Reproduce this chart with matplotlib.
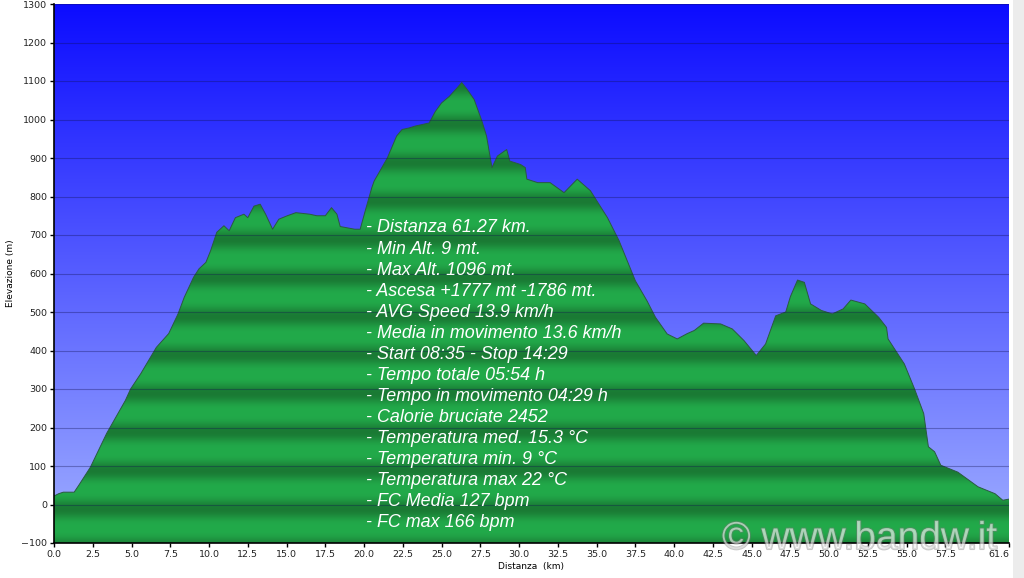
import matplotlib
matplotlib.use('Agg')
import matplotlib.pyplot as plt
import matplotlib.patheffects as pe
from matplotlib.patches import Polygon, Rectangle
import numpy as np

# elevation profile
km = [0, 0.3, 0.6, 1.3, 1.6, 2.35, 3.4, 4.6, 4.94, 5.6, 6.6, 7.4, 8.0, 8.4, 9.0, 9.35, 9.8,
      10.1, 10.5, 10.96, 11.3, 11.7, 12.25, 12.5, 12.9, 13.3, 13.65, 14.1, 14.5, 15.05, 15.6,
      16.5, 16.95, 17.5, 17.9, 18.25, 18.46, 19.4, 19.75, 20.07, 20.5, 20.65, 21.5, 22.1,
      22.45, 22.9, 23.3, 24.2, 24.6, 25.0, 25.5, 26.0, 26.3, 26.65, 27.1, 27.6, 27.9, 28.25,
      28.6, 29.2, 29.4, 30.1, 30.4, 30.5, 31.2, 32.0, 32.9, 33.75, 34.6, 35.7, 36.45, 37.5,
      38.25, 38.8, 39.55, 40.2, 40.85, 41.3, 41.9, 43.0, 43.75, 44.5, 45.3, 45.9, 46.55,
      47.2, 47.5, 47.96, 48.4, 48.8, 49.5, 50.2, 50.9, 51.4, 52.3, 53.2, 53.7, 53.8, 54.85,
      55.5, 56.1, 56.4, 56.8, 57.2, 58.3, 59.6, 60.7, 61.2, 61.6]
elev = [22, 28, 32, 32, 50, 97, 185, 270, 300, 340, 408, 444, 495, 538, 590, 612, 629,
        659, 707, 724, 711, 745, 754, 745, 775, 780, 754, 715, 741, 750, 758,
        754, 750, 750, 771, 754, 722, 715, 715, 762, 823, 840, 900, 957,
        974, 978, 983, 991, 1021, 1043, 1060, 1082, 1096, 1078, 1052, 996, 957, 875,
        905, 922, 892, 883, 875, 845, 836, 836, 810, 845, 815, 745, 685, 581,
        529, 486, 443, 430, 444, 452, 471, 469, 456, 426, 387, 417, 490,
        500, 540, 583, 577, 521, 504, 495, 508, 531, 521, 486, 460, 430, 365,
        301, 236, 150, 137, 102, 84, 46, 28, 11, 14]

xticks = [0, 2.5, 5, 7.5, 10, 12.5, 15, 17.5, 20, 22.5, 25, 27.5, 30, 32.5, 35, 37.5,
          40, 42.5, 45, 47.5, 50, 52.5, 55, 57.5, 61.6]
yticks = list(range(-100, 1301, 100))

info = ["- Distanza 61.27 km.",
        "- Min Alt. 9 mt.",
        "- Max Alt. 1096 mt.",
        "- Ascesa +1777 mt -1786 mt.",
        "- AVG Speed 13.9 km/h",
        "- Media in movimento 13.6 km/h",
        "- Start 08:35 - Stop 14:29",
        "- Tempo totale 05:54 h",
        "- Tempo in movimento 04:29 h",
        "- Calorie bruciate 2452",
        "- Temperatura med. 15.3 \u00b0C",
        "- Temperatura min. 9 \u00b0C",
        "- Temperatura max 22 \u00b0C",
        "- FC Media 127 bpm",
        "- FC max 166 bpm"]

xmax = 61.6
fig = plt.figure(figsize=(10.24, 5.78), dpi=100)
fig.patches.append(Rectangle((1013 / 1024, 0), 11 / 1024, 1, transform=fig.transFigure,
                             facecolor='#ececec', edgecolor='none', zorder=-5))
ax = fig.add_axes([54 / 1024, 35 / 578, 955 / 1024, 539 / 578])

# blue sky gradient
t = np.linspace(0, 1, 256).reshape(-1, 1)
top = np.array([12, 12, 255]) / 255
bot = np.array([160, 175, 255]) / 255
sky = top * (1 - t[..., None]) + bot * t[..., None]
ax.imshow(sky, extent=[0, xmax, -100, 1300], aspect='auto', zorder=0)

# banded green fill
ev = np.linspace(1300, -100, 1400)
f = ((np.cos(2 * np.pi * (ev + 12) / 100) + 1) / 2) ** 1.6
light = np.array([34, 170, 74]) / 255
dark = np.array([26, 122, 52]) / 255
green = (light * (1 - f[:, None]) + dark * f[:, None]).reshape(-1, 1, 3)
im = ax.imshow(green, extent=[0, xmax, -100, 1300], aspect='auto', zorder=1)
verts = [(km[0], -100)] + list(zip(km, elev)) + [(km[-1], -100)]
poly = Polygon(verts, closed=True, facecolor='none', edgecolor='none')
ax.add_patch(poly)
im.set_clip_path(poly)
ax.plot(km, elev, color='#2a5a40', lw=0.7, zorder=2)

for y in yticks:
    ax.axhline(y, color='#101050', lw=0.8, alpha=0.35, zorder=3)

ax.set_xlim(0, xmax)
ax.set_ylim(-100, 1300)
ax.set_xticks(xticks)
ax.set_xticklabels(['%.1f' % v for v in xticks])
ax.get_xticklabels()[-1].set_horizontalalignment('right')
ax.get_xticklabels()[-1].set_x(xmax + 0.1)
ax.set_yticks(yticks)
ax.tick_params(labelsize=6.8, length=3, width=1, colors='black', labelcolor='#222222', pad=2)
for s in ['top', 'right']:
    ax.spines[s].set_visible(False)
ax.spines['left'].set_linewidth(1.2)
ax.spines['bottom'].set_linewidth(1.2)
ax.set_xlabel('Distanza  (km)', fontsize=6.5, labelpad=2)
ax.set_ylabel('Elevazione (m)', fontsize=6.5, labelpad=4)

for i, line in enumerate(info):
    fig.text(366 / 1024, 1 - (228 + 21.07 * i) / 578, line, fontsize=12.9, style='italic',
             family='Liberation Sans', color='white', va='center', ha='left', zorder=5)

fig.text(722 / 1024, 1 - 539 / 578, '\u00a9 www.bandw.it', fontsize=28,
         family='Liberation Sans', color='white', alpha=0.4, va='center', ha='left',
         path_effects=[pe.withStroke(linewidth=1.5, foreground='#777777')], zorder=6)

fig.savefig('out.png', dpi=100)
